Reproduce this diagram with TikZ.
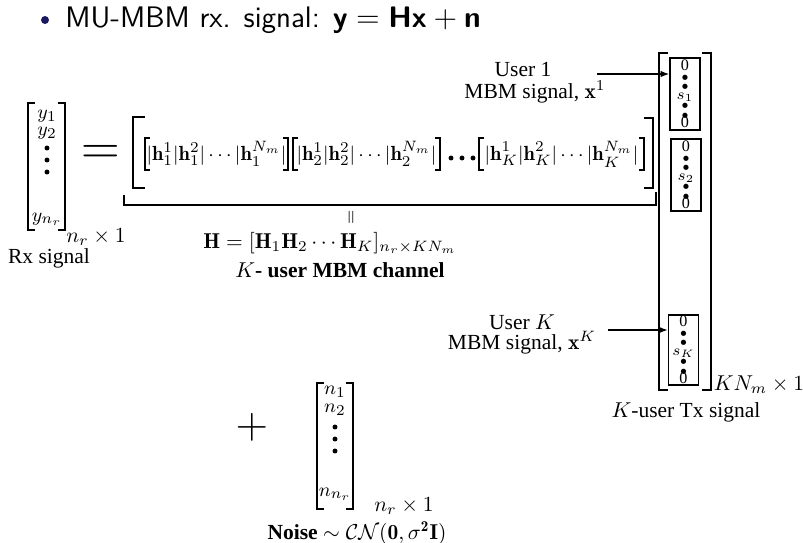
\documentclass[tikz,border=0pt]{standalone}
\usepackage{amsmath,amssymb}
\usepackage{fontspec}
\newfontfamily\timesfont{Liberation Serif}
\usepackage{tikz}
\usetikzlibrary{arrows.meta, positioning, calc}

\definecolor{structblue}{RGB}{25,25,95}

% bracket macros: x, top, bottom, tick length
\newcommand{\lbrk}[4]{\draw[brk] (#1+#4,#2) -- (#1,#2) -- (#1,#3) -- (#1+#4,#3);}
\newcommand{\rbrk}[4]{\draw[brk] (#1-#4,#2) -- (#1,#2) -- (#1,#3) -- (#1-#4,#3);}
\newcommand{\zdot}{$\scriptstyle\bullet$}
\newcommand{\zcol}[1]{\vbox{\baselineskip=4.4pt\lineskiplimit=-10pt
    \halign{\hfil##\hfil\cr 0\cr\zdot\cr\zdot\cr$#1$\cr\zdot\cr\zdot\cr 0\cr}}}

\begin{document}
\begin{tikzpicture}[
    x=0.465pt, y=-0.465pt,
    lbl/.style={font=\timesfont\fontsize{10}{12}\selectfont, inner sep=0pt},
    mathlbl/.style={font=\fontsize{10}{12}\selectfont, inner sep=0pt},
    entry/.style={font=\fontsize{9.5}{11}\selectfont, inner sep=0pt},
    blk/.style={font=\fontsize{9.5}{11}\selectfont, inner sep=0pt},
    brk/.style={line width=0.75pt},
    vecbox/.style={draw, line width=0.7pt, minimum width=14pt, minimum height=33.5pt, inner sep=0pt,
                   font=\timesfont\fontsize{7.5}{8}\selectfont},
    dotn/.style={circle, fill, inner sep=0pt, minimum size=2.3pt},
    arrow/.style={-{Latex[length=4pt,width=3pt]}, line width=0.5pt}
]
\useasboundingbox (0,0) rectangle (803,542);

% title
\node[circle, fill=structblue, inner sep=0pt, minimum size=3.7pt] (bul) at (45,20) {};
\node[anchor=west, inner sep=0pt, font=\sffamily\fontsize{13.8}{16}\selectfont] (title) at (65,20)
    {MU-MBM rx. signal: $\textbf{y} = \textbf{Hx} + \textbf{n}$};

% received signal
\lbrk{28}{103}{230}{7}
\rbrk{65}{103}{230}{7}
\node[entry] (y1) at (47,116) {$y_1$};
\node[entry] (y2) at (47,133) {$y_2$};
\foreach \yy [count=\i] in {148,160,172} \node[dotn] (yd\i) at (47,\yy) {};
\node[entry] (ynr) at (47,219) {$y_{n_r}$};
\node[mathlbl] (ydim) at (96,237) {$n_r \times 1$};
\node[lbl] (rx) at (49,258) {Rx signal};

\node (eq) at (101,155) {\fontsize{25}{25}\selectfont$=$};

% channel matrix
\lbrk{133}{117}{188}{12}
\rbrk{653}{118}{188}{9}
\lbrk{145}{138}{170}{5}
\rbrk{288}{138}{170}{5}
\lbrk{293}{138}{170}{5}
\rbrk{440}{138}{170}{5}
\lbrk{479}{138}{170}{5}
\rbrk{644}{138}{170}{5}
\node[blk] (h1) at (216.5,154) {$|\mathbf{h}_1^1|\mathbf{h}_1^2|\cdots|\mathbf{h}_1^{N_m}|$};
\node[blk] (h2) at (366.5,154) {$|\mathbf{h}_2^1|\mathbf{h}_2^2|\cdots|\mathbf{h}_2^{N_m}|$};
\node[blk] (hK) at (561.5,154) {$|\mathbf{h}_K^1|\mathbf{h}_K^2|\cdots|\mathbf{h}_K^{N_m}|$};
\foreach \xx [count=\i] in {451,462,473} \node[dotn] (hd\i) at (\xx,158) {};

\draw[brk] (124,195) -- (124,205) -- (656,205) -- (656,192);
\node[rotate=90, inner sep=0pt, font=\fontsize{8}{8}\selectfont] (heq) at (352,217) {$=$};
\node[mathlbl] (hdef) at (330,243)
    {$\mathbf{H} = [\mathbf{H}_1\mathbf{H}_2\cdots\mathbf{H}_K]_{n_r\times KN_m}$};
\node[lbl] (hch) at (340,270) {$K$\textbf{- user MBM channel}};

% transmitted signal
\lbrk{659}{53}{390}{9}
\rbrk{711}{53}{390}{9}
\node[vecbox] (x1) at (685,94) {\zcol{s_1}};
\node[vecbox] (x2) at (686,175) {\zcol{s_2}};
\node[vecbox, minimum height=32.5pt] (xK) at (683.5,350) {\zcol{s_K}};

\node[lbl] (u1) at (523,69) {User 1};
\node[lbl] (u1sig) at (535,92) {MBM signal, $\mathbf{x}^1$};
\coordinate (u1tail) at (597,74);
\draw[arrow] (u1tail) -- (u1tail -| x1.west);

\node[lbl] (uK) at (522,322) {User $K$};
\node[lbl] (uKsig) at (522,343) {MBM signal, $\mathbf{x}^K$};
\coordinate (uKtail) at (608,330);
\draw[arrow] (uKtail) -- (uKtail -| xK.west);

\node[mathlbl] (xdim) at (759,385) {$KN_m \times 1$};
\node[lbl] (tx) at (686,412) {$K$-user Tx signal};

% noise
\node (plus) at (252,427) {\fontsize{20}{20}\selectfont$+$};
\lbrk{317}{383}{509}{7}
\rbrk{353}{383}{509}{7}
\node[entry] (n1) at (335,392) {$n_1$};
\node[entry] (n2) at (335,410) {$n_2$};
\foreach \yy [count=\i] in {427,439,451} \node[dotn] (nd\i) at (335,\yy) {};
\node[entry] (nnr) at (335,494) {$n_{n_r}$};
\node[mathlbl] (ndim) at (404,506) {$n_r \times 1$};
\node[lbl] (noise) at (357,533)
    {\textbf{Noise} $\sim \mathcal{CN}(\mathbf{0}, \sigma^{\mathbf{2}}\mathbf{I})$};
\end{tikzpicture}
\end{document}
